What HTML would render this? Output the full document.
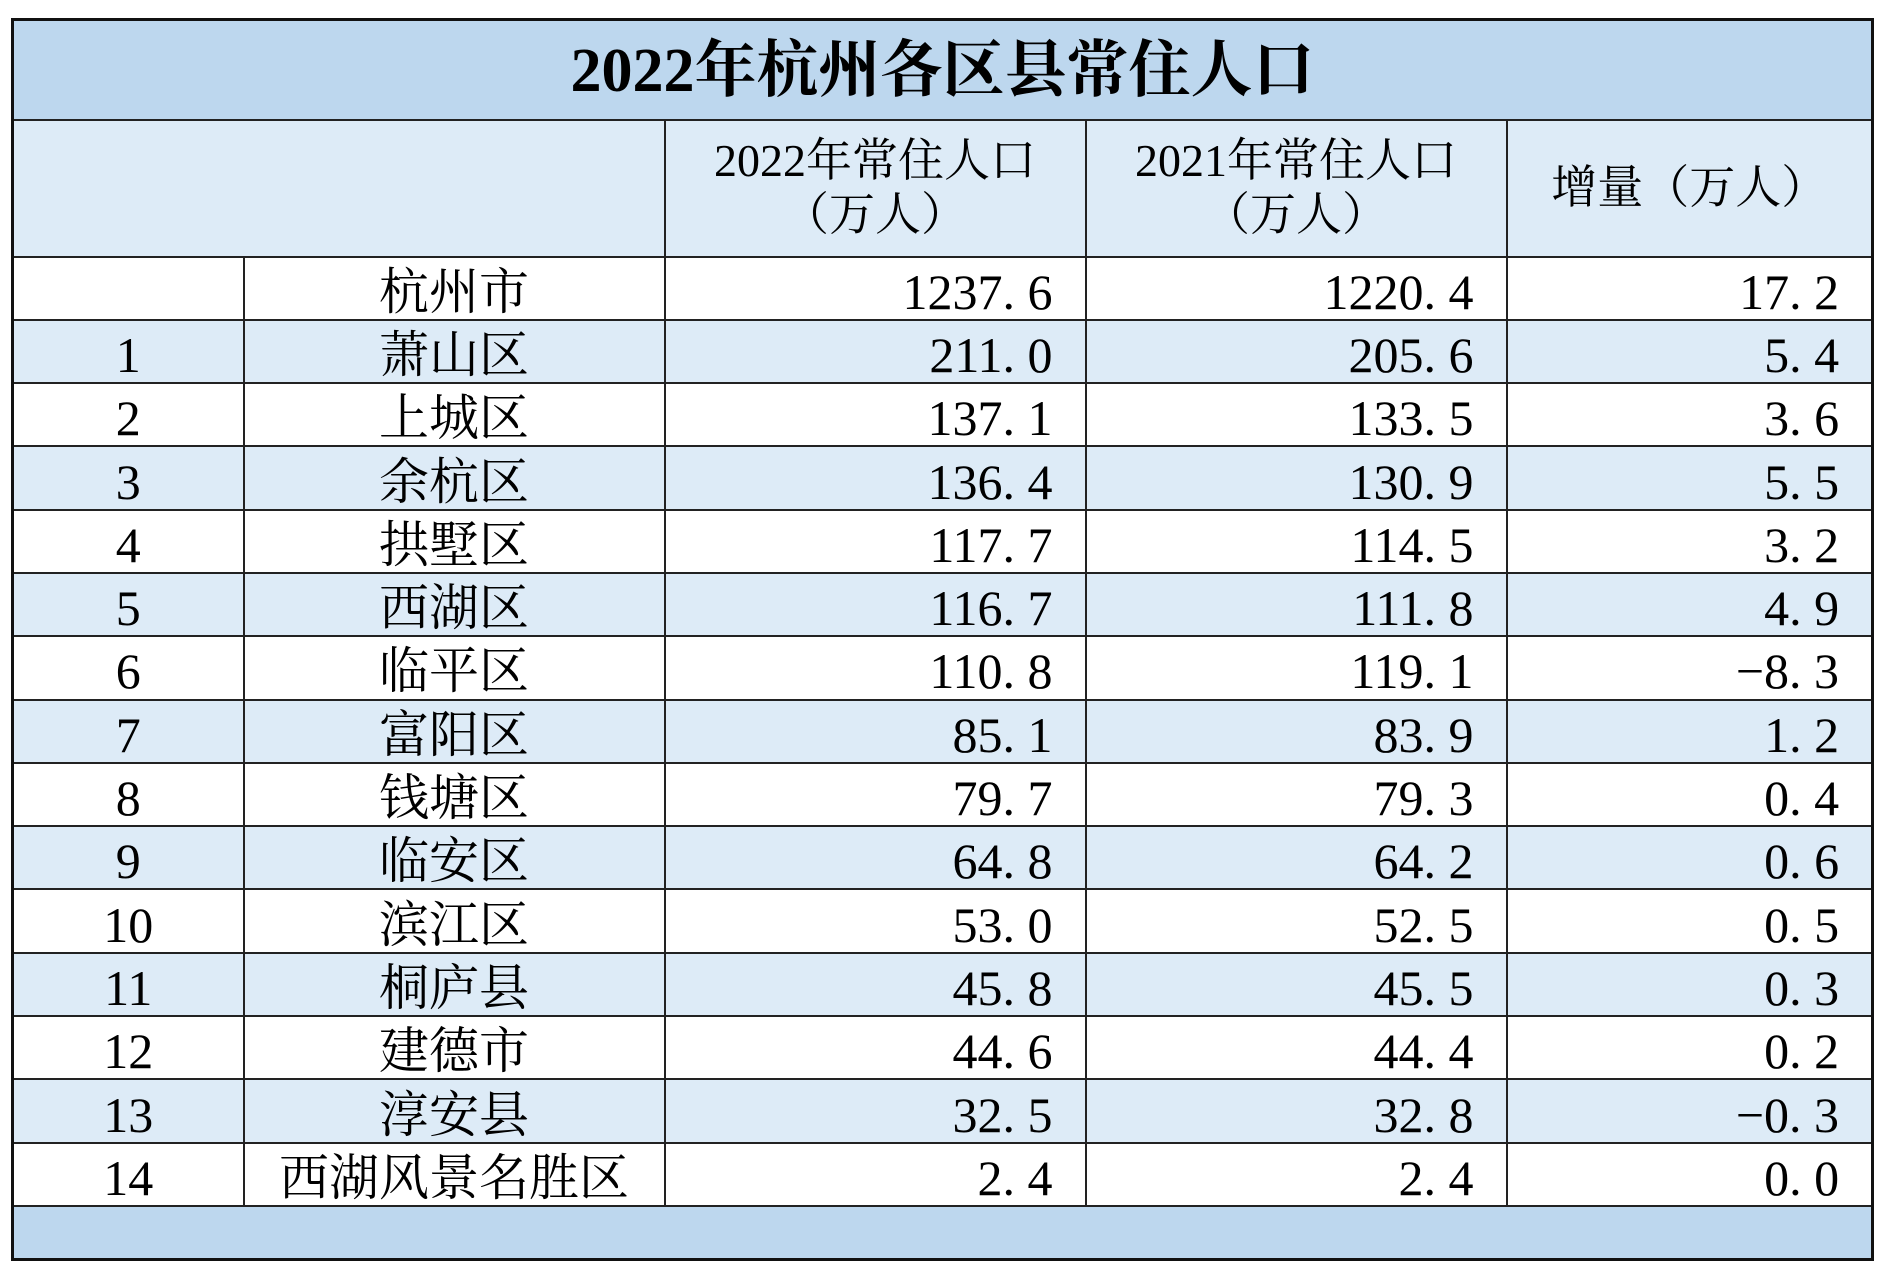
<!DOCTYPE html>
<html><head><meta charset="utf-8"><style>
body{margin:0;background:#fff;width:1900px;height:1280px;position:relative;overflow:hidden}
table{position:absolute;left:11px;top:18px;width:1860px;border-collapse:collapse;table-layout:fixed;
font-family:"Liberation Serif","Noto Serif CJK SC",serif;color:#000;border:3px solid #111}
td{border:2px solid #222;padding:0;height:61px;font-size:50px;line-height:50px;white-space:nowrap;overflow:hidden;padding-top:7px;box-sizing:border-box}
tr{height:63.3px}
.t td{background:#BDD7EE;height:99px;font-weight:bold;font-size:62px;line-height:62px;text-align:center;padding-top:2px}
.t{height:100px}
.h td{background:#DDEBF7;height:135px;font-size:46px;text-align:center;line-height:54px;padding-top:0}
.h{height:137px}
.b td{background:#DDEBF7}
.f td{background:#BDD7EE;height:52px}
.f{height:54px}
td.c{text-align:center}
td.r{text-align:right;padding-right:32px}
</style></head><body>
<table>
<colgroup><col style="width:231px"><col style="width:421px"><col style="width:421px"><col style="width:421px"><col style="width:366px"></colgroup>
<tr class="t"><td colspan="5">2022年杭州各区县常住人口</td></tr>
<tr class="h"><td colspan="2"></td><td>2022年常住人口<br>（万人）</td><td>2021年常住人口<br>（万人）</td><td>增量（万人）</td></tr>
<tr><td></td><td class="c">杭州市</td><td class="r">1237. 6</td><td class="r">1220. 4</td><td class="r">17. 2</td></tr>
<tr class="b"><td class="c">1</td><td class="c">萧山区</td><td class="r">211. 0</td><td class="r">205. 6</td><td class="r">5. 4</td></tr>
<tr><td class="c">2</td><td class="c">上城区</td><td class="r">137. 1</td><td class="r">133. 5</td><td class="r">3. 6</td></tr>
<tr class="b"><td class="c">3</td><td class="c">余杭区</td><td class="r">136. 4</td><td class="r">130. 9</td><td class="r">5. 5</td></tr>
<tr><td class="c">4</td><td class="c">拱墅区</td><td class="r">117. 7</td><td class="r">114. 5</td><td class="r">3. 2</td></tr>
<tr class="b"><td class="c">5</td><td class="c">西湖区</td><td class="r">116. 7</td><td class="r">111. 8</td><td class="r">4. 9</td></tr>
<tr><td class="c">6</td><td class="c">临平区</td><td class="r">110. 8</td><td class="r">119. 1</td><td class="r">−8. 3</td></tr>
<tr class="b"><td class="c">7</td><td class="c">富阳区</td><td class="r">85. 1</td><td class="r">83. 9</td><td class="r">1. 2</td></tr>
<tr><td class="c">8</td><td class="c">钱塘区</td><td class="r">79. 7</td><td class="r">79. 3</td><td class="r">0. 4</td></tr>
<tr class="b"><td class="c">9</td><td class="c">临安区</td><td class="r">64. 8</td><td class="r">64. 2</td><td class="r">0. 6</td></tr>
<tr><td class="c">10</td><td class="c">滨江区</td><td class="r">53. 0</td><td class="r">52. 5</td><td class="r">0. 5</td></tr>
<tr class="b"><td class="c">11</td><td class="c">桐庐县</td><td class="r">45. 8</td><td class="r">45. 5</td><td class="r">0. 3</td></tr>
<tr><td class="c">12</td><td class="c">建德市</td><td class="r">44. 6</td><td class="r">44. 4</td><td class="r">0. 2</td></tr>
<tr class="b"><td class="c">13</td><td class="c">淳安县</td><td class="r">32. 5</td><td class="r">32. 8</td><td class="r">−0. 3</td></tr>
<tr><td class="c">14</td><td class="c">西湖风景名胜区</td><td class="r">2. 4</td><td class="r">2. 4</td><td class="r">0. 0</td></tr>
<tr class="f"><td colspan="5"></td></tr>
</table>
</body></html>
